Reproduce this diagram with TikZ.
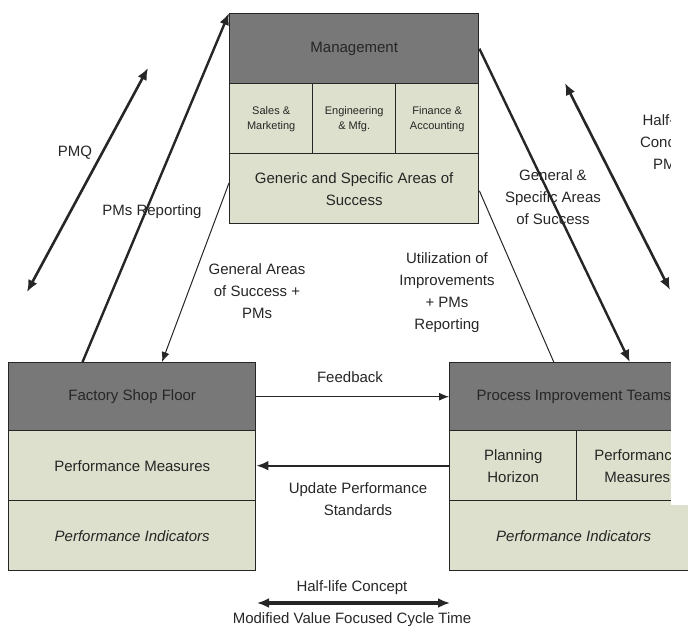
\documentclass[tikz,border=0pt]{standalone}
\usepackage{fontspec}
\setmainfont{Liberation Sans}
\usepackage{xcolor}
\definecolor{headGray} {HTML}{787878}
\definecolor{cellBack} {HTML}{DDE0CC}
\definecolor{inkGray}  {HTML}{262626}
\usetikzlibrary{arrows.meta, positioning, calc}
\tikzset{
    cell/.style={draw=inkGray, line width=1.4pt, fill=cellBack, anchor=north west,
                 inner sep=2pt, align=center, text=inkGray,
                 font=\fontsize{15}{22}\selectfont},
    headcell/.style={cell, fill=headGray},
    smallcell/.style={cell, font=\fontsize{11}{15}\selectfont},
    lbl/.style={align=center, text=inkGray, font=\fontsize{15}{22}\selectfont},
    flow/.style={-{Latex[length=12pt,width=10pt]}, line width=2.4pt, inkGray},
    thinflow/.style={-{Latex[length=10pt,width=8pt]}, line width=1pt, inkGray},
    thinline/.style={-, line width=1pt, inkGray},
    twoway/.style={{Latex[length=12pt,width=10pt]}-{Latex[length=12pt,width=10pt]},
                   line width=2.6pt, inkGray},
}

\begin{document}
\begin{tikzpicture}[x=1pt, y=-1pt]
    \useasboundingbox (0,0) rectangle (688,635);

    % management block
    \node[headcell, minimum width=249pt, minimum height=70pt] (mgmt) at (229,13) {Management};
    \node[smallcell, minimum width=83pt, minimum height=70pt] (sales) at (229,83) {Sales \&\\Marketing};
    \node[smallcell, minimum width=83pt, minimum height=70pt] (eng) at (312,83) {Engineering\\\& Mfg.};
    \node[smallcell, minimum width=83pt, minimum height=70pt] (fin) at (395,83) {Finance \&\\Accounting};
    \node[cell, minimum width=249pt, minimum height=70pt] (areas) at (229,153) {Generic and Specific Areas of\\Success};

    % factory shop floor block
    \node[headcell, minimum width=247pt, minimum height=68pt] (fsf) at (8,362) {Factory Shop Floor};
    \node[cell, minimum width=247pt, minimum height=70pt] (fsfpm) at (8,430) {Performance Measures};
    \node[cell, minimum width=247pt, minimum height=70pt] (fsfpi) at (8,500) {\itshape Performance Indicators};

    % process improvement teams block
    \node[headcell, minimum width=248pt, minimum height=68pt] (pit) at (449,362) {Process Improvement Teams};
    \node[cell, minimum width=127pt, minimum height=70pt] (plan) at (449,430) {Planning\\Horizon};
    \node[cell, minimum width=121pt, minimum height=70pt] (pitpm) at (576,430) {Performance\\Measures};
    \node[cell, minimum width=248pt, minimum height=70pt] (pitpi) at (449,500) {\itshape Performance Indicators};

    % free ends of the two-way arrows
    \coordinate (pmqA) at (27,292);
    \coordinate (pmqB) at (148,68);
    \coordinate (halfA) at (565,83);
    \coordinate (halfB) at (670,290);
    \coordinate (cycA) at (257,603);
    \coordinate (cycB) at (450,603);

    \draw[twoway] (pmqA) -- (pmqB);
    \node[lbl] (pmq) at (75,153) {PMQ};

    \draw[flow] ($(fsf.north west)!0.3!(fsf.north east)$) -- (mgmt.north west);
    \node[lbl] (pmsrep) at (152,212) {PMs Reporting};

    \draw[thinflow] ($(areas.north west)!0.42!(areas.south west)$) -- ($(fsf.north west)!0.62!(fsf.north east)$);
    \node[lbl] (general) at (257,291) {General Areas\\of Success +\\PMs};

    \draw[flow] ($(mgmt.north east)!0.5!(mgmt.south east)$) -- ($(pit.north west)!0.725!(pit.north east)$);
    \node[lbl] (specific) at (553,197) {General \&\\Specific Areas\\of Success};

    \draw[thinline] ($(areas.north east)!0.53!(areas.south east)$) -- ($(pit.north west)!0.42!(pit.north east)$);
    \node[lbl] (util) at (447,293) {Utilization of\\Improvements\\+ PMs\\Reporting};

    \draw[twoway] (halfA) -- (halfB);
    \node[lbl] (halfpm) at (668,142) {Half-life\\Concept\\PMs};

    \draw[thinflow] (fsf.east) -- (pit.west);
    \node[lbl] (feedback) at (350,377) {Feedback};

    \draw[flow] (plan.west) -- (fsfpm.east);
    \node[lbl] (update) at (358,499) {Update Performance\\Standards};

    \draw[twoway, line width=3.6pt] (cycA) -- (cycB);
    \node[lbl] (halflife) at (352,588) {Half-life Concept};
    \node[lbl] (cycle) at (352,620) {Modified Value Focused Cycle Time};

    % the right margin of the source is cut away
    \fill[white] (671,0) rectangle (690,505);
\end{tikzpicture}
\end{document}
